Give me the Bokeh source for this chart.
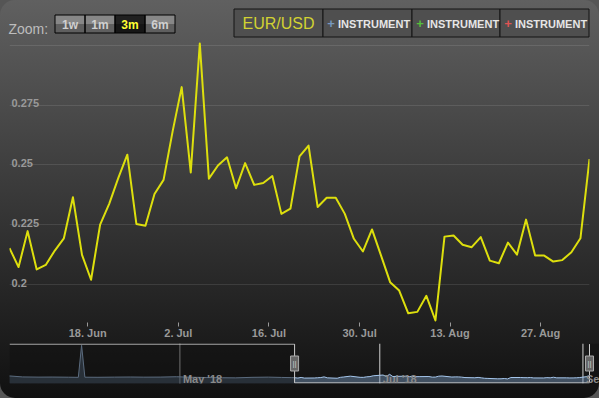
import pandas as pd
from bokeh.plotting import figure
from bokeh.layouts import column
from bokeh.models import Range1d, FixedTicker, GlobalInlineStyleSheet
from bokeh.core.properties import value
from bokeh.embed import file_html
from bokeh.resources import INLINE

# ---------------- data ----------------
eurusd = [0.2153, 0.2074, 0.2224, 0.2064, 0.2083, 0.2143, 0.2194, 0.2365, 0.2125, 0.2021,
          0.2251, 0.2338, 0.2445, 0.2543, 0.2254, 0.2246, 0.2379, 0.2438, 0.2640, 0.2825,
          0.2469, 0.3007, 0.2443, 0.2498, 0.2532, 0.2403, 0.2508, 0.2417, 0.2425, 0.2454,
          0.2296, 0.2318, 0.2536, 0.2581, 0.2325, 0.2363, 0.2363, 0.2296, 0.2192, 0.2139,
          0.2231, 0.2122, 0.2011, 0.1976, 0.1881, 0.1887, 0.1954, 0.1851, 0.2201, 0.2206,
          0.2167, 0.2157, 0.2199, 0.2101, 0.2090, 0.2176, 0.2126, 0.2272, 0.2122, 0.2122,
          0.2097, 0.2103, 0.2136, 0.2194, 0.2525]
first_date = "2018-06-05"

x_tick_dates = ["2018-06-18", "2018-07-02", "2018-07-16", "2018-07-30", "2018-08-13", "2018-08-27"]
x_tick_labels = ["18. Jun", "2. Jul", "16. Jul", "30. Jul", "13. Aug", "27. Aug"]
y_ticks = [0.2, 0.225, 0.25, 0.275, 0.3]
y_tick_labels = ["0.2", "0.225", "0.25", "0.275"]

nav_pre_dates = ["2018-03-10", "2018-03-14", "2018-03-19", "2018-03-23", "2018-03-28",
                 "2018-03-31", "2018-04-01", "2018-04-02", "2018-04-06", "2018-04-11",
                 "2018-04-16", "2018-04-20", "2018-04-25", "2018-04-30", "2018-05-04",
                 "2018-05-09", "2018-05-14", "2018-05-18", "2018-05-23", "2018-05-28",
                 "2018-06-01", "2018-06-04"]
nav_pre_values = [0.260, 0.235, 0.230, 0.232, 0.228, 0.225, 1.030, 0.228, 0.226, 0.230,
                  0.233, 0.229, 0.231, 0.240, 0.228, 0.220, 0.215, 0.212, 0.225, 0.230,
                  0.222, 0.218]
nav_tick_dates = ["2018-05-01", "2018-07-01", "2018-09-01"]
nav_tick_labels = ["May '18", "Jul '18", "Sep '18"]

zoom_buttons = ["1w", "1m", "3m", "6m"]
selected_button = "3m"
instrument = "EUR/USD"
extra_slots = ["INSTRUMENT", "INSTRUMENT", "INSTRUMENT"]
plus_colors = ["#7798BF", "#55BF3B", "#DF5353"]

# ---------------- style ----------------
W = 599
FONT = "Liberation Sans"
LINE_COLOR = "#DDDF0D"
LABEL_COLOR = "#999999"

css = GlobalInlineStyleSheet(css="""
html { background: #555555; }
body { margin: 0; width: 599px; height: 398px; overflow: hidden; border-radius: 15px;
       background: linear-gradient(180deg, rgb(96,96,96) 0px, rgb(16,16,16) 400px); }
""")


def clear(p):
    p.outline_line_color = None
    p.background_fill_color = None
    p.border_fill_color = None
    p.frame_align = False


# ---------------- top bar ----------------
top = figure(width=W, height=40, x_range=Range1d(0, W), y_range=Range1d(40, 0),
             x_axis_type=None, y_axis_type=None, toolbar_location=None,
             output_backend="svg", min_border=0)
clear(top)

top.text(x=[8], y=[28], text=["Zoom:"], text_font=value(FONT), text_font_size="14px",
         text_color="#BDBDBD", text_baseline="alphabetic")

bl = [54.5 + 30 * i for i in range(len(zoom_buttons))]
br = [b + 30 for b in bl]
sel = [b == selected_button for b in zoom_buttons]
top.quad(left=bl, right=br, top=14.5, bottom=23.5,
         fill_color=["#202020" if s else "#878787" for s in sel], line_color=None)
top.quad(left=bl, right=br, top=23.5, bottom=32.5,
         fill_color=["#161616" if s else "#5f5f5f" for s in sel], line_color=None)
top.quad(left=bl, right=br, top=14.5, bottom=32.5, fill_color=None,
         line_color="#000000", line_width=1)
top.text(x=[b + 15 for b in bl], y=[24] * len(bl), text=zoom_buttons,
         text_font=value(FONT), text_font_size="12px", text_font_style="bold",
         text_color=["#FFFF33" if s else "#D0D0D0" for s in sel],
         text_align="center", text_baseline="middle")

cells = [instrument] + extra_slots
cl = [233.5 + round(88.75 * i) for i in range(len(cells))]
cr = cl[1:] + [588.5]
top.quad(left=cl, right=cr, top=8.5, bottom=36.5, fill_color="#4f4f4f",
         line_color="#151515", line_width=1)
top.text(x=[(cl[0] + cr[0]) / 2], y=[23], text=[instrument], text_font=value(FONT),
         text_font_size="16px", text_color="#D2D232", text_align="center",
         text_baseline="middle")
top.text(x=[l + 8 for l in cl[1:]], y=[23] * 3, text=["+"] * 3, text_font=value(FONT),
         text_font_size="13px", text_font_style="bold", text_color=plus_colors,
         text_align="center", text_baseline="middle")
top.text(x=[l + 15 for l in cl[1:]], y=[23] * 3, text=extra_slots, text_font=value(FONT),
         text_font_size="11px", text_font_style="bold", text_color="#E6E6E6",
         text_align="left", text_baseline="middle")

# ---------------- main chart ----------------
n = len(eurusd)
idx = list(range(n))
main_dates = pd.bdate_range(first_date, periods=n)
date_list = [d.strftime("%Y-%m-%d") for d in main_dates]
tick_pos = [date_list.index(d) - 0.37 for d in x_tick_dates]

ymin, ymax = min(eurusd), max(eurusd)
frame_h = 281
pad = (ymax - ymin) * 2 / (frame_h - 4)

main = figure(width=W, height=302, x_range=Range1d(0, n - 1),
              y_range=Range1d(ymin - pad, ymax + pad), toolbar_location=None,
              output_backend="svg", min_border_top=1, min_border_left=9,
              min_border_right=10, min_border_bottom=20)
clear(main)
main.yaxis.visible = False
main.xgrid.visible = False
main.ygrid.ticker = FixedTicker(ticks=y_ticks)
main.ygrid.grid_line_color = "#FFFFFF"
main.ygrid.grid_line_alpha = 0.1

xa = main.xaxis[0]
xa.ticker = FixedTicker(ticks=tick_pos)
xa.major_label_overrides = {t: l for t, l in zip(tick_pos, x_tick_labels)}
xa.axis_line_color = None
xa.major_tick_line_color = LABEL_COLOR
xa.major_tick_out = 4
xa.major_tick_in = 0
xa.minor_tick_line_color = None
xa.major_label_standoff = 0
xa.major_label_text_font = FONT
xa.major_label_text_font_size = "11px"
xa.major_label_text_font_style = "bold"
xa.major_label_text_color = LABEL_COLOR

main.line(idx, eurusd, line_color=LINE_COLOR, line_width=2, line_join="round")
main.text(x=[0] * len(y_tick_labels), y=y_ticks[:len(y_tick_labels)], text=y_tick_labels,
          x_offset=2, y_offset=-2, text_font=value(FONT), text_font_size="11px",
          text_font_style="bold", text_color=LABEL_COLOR, text_baseline="alphabetic")

# ---------------- navigator ----------------
nav_dates = list(pd.to_datetime(nav_pre_dates)) + list(main_dates)
nav_vals = nav_pre_values + eurusd
x0, x1 = nav_dates[0], nav_dates[-1]
nav_end = x1 + (x1 - x0) * (10 / 580)
ys, ye = 0.07, 1.075
px = (ye - ys) / 40
sel_min, sel_max = main_dates[0], main_dates[-1]
tdates = list(pd.to_datetime(nav_tick_dates))

nav = figure(width=W, height=56, x_range=Range1d(x0, nav_end), y_range=Range1d(ys, ye),
             x_axis_type=None, y_axis_type=None, toolbar_location=None,
             output_backend="svg", min_border_top=1, min_border_left=9,
             min_border_right=0, min_border_bottom=15)
clear(nav)

nav.segment(x0=tdates, y0=[ys] * 3, x1=tdates, y1=[ye] * 3, line_color="#D0D0D0",
            line_width=1)
nav.varea(x=nav_dates, y1=ys, y2=nav_vals, fill_color="#7798BF", fill_alpha=0.45)
nav.line(nav_dates, nav_vals, line_color="#A6C7ED", line_width=1)
nav.quad(left=[x0, sel_max], right=[sel_min, nav_end], bottom=ys, top=ye,
         fill_color="#101010", fill_alpha=0.5, line_color=None)
ot, ob = ye - 0.6 * px, ys + 0.6 * px
nav.line(x=[x0, sel_min, sel_min, sel_max, sel_max], y=[ot, ot, ob, ob, ot],
         line_color="#CCCCCC", line_width=1)
nav.text(x=tdates, y=[ys] * 3, text=nav_tick_labels, x_offset=3, y_offset=-5,
         text_font=value(FONT), text_font_size="11px", text_font_style="bold",
         text_color="#8A8A8A", text_baseline="alphabetic")
ymid = (ys + ye) / 2
nav.rect(x=[sel_min, sel_max], y=[ymid] * 2, width=8, height=15, width_units="screen",
         height_units="screen", fill_color="#666666", line_color="#AAAAAA", line_width=1)
nav.text(x=[sel_min, sel_max], y=[ymid] * 2, text=["||"] * 2, text_font=value(FONT),
         text_font_size="8px", text_color="#CCCCCC", text_align="center",
         text_baseline="middle")

layout = column(top, main, nav, spacing=0)
top.stylesheets = [css]

open("out.html", "w").write(file_html(layout, INLINE))
